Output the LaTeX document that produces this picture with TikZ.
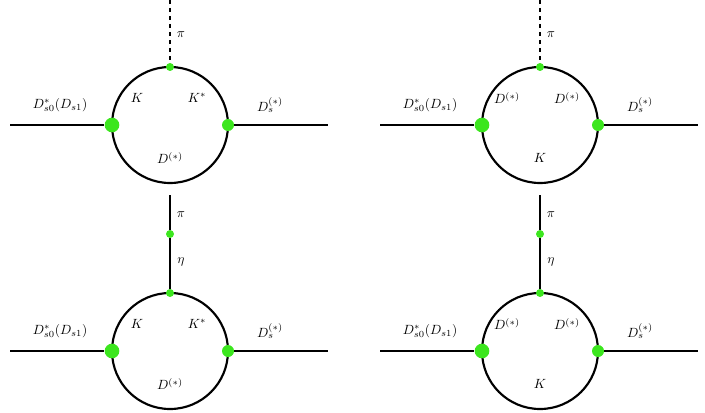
\documentclass[tikz,border=0pt]{standalone}
\usepackage{amsmath}
\usepackage{tikz}
\definecolor{vgreen}{RGB}{60,230,30}
\tikzset{
    prop/.style={line width=1.6pt},
    bigdot/.style={circle, fill=vgreen, inner sep=0pt, minimum size=#1},
    bigdot/.default=9pt
}
% loop diagram: x, y, top-left label, top-right label, bottom label, vertical leg
\newcommand{\loopdiag}[6] {
	\draw[prop] (#1,#2) circle [radius=58];
	\node[bigdot=11pt] (l#1#2) at (#1-58,#2) {};
	\node[bigdot=9pt] (r#1#2) at (#1+58,#2) {};
	\node[bigdot=6pt] (t#1#2) at (#1,#2-58) {};
	\coordinate (a#1#2) at (#1-160,#2);
	\coordinate (b#1#2) at (#1+158,#2);
	\draw[prop] (a#1#2) -- (l#1#2);
	\draw[prop] (r#1#2) -- (b#1#2);
	\node at (#1-33,#2-27) {#3};
	\node at (#1+27,#2-27) {#4};
	\node at (#1,#2+33) {#5};
	\node at (#1-110,#2-20) {$D^*_{s0}(D_{s1})$};
	\node at (#1+100,#2-20) {$D_s^{(*)}$};
	#6
}
\begin{document}
\begin{tikzpicture}[x=0.75pt,y=-0.75pt]
		\useasboundingbox (0,0) rectangle (705,413);

		% top row
		\loopdiag{170}{125}{$K$}{$K^*$}{$D^{(*)}$}{
			\coordinate (p1) at (170,0);
			\draw[prop, dashed] (p1) -- (t170125);
			\node at (181,35) {$\pi$};}
		\loopdiag{540}{125}{$D^{(*)}$}{$D^{(*)}$}{$K$}{
			\coordinate (p2) at (540,0);
			\draw[prop, dashed] (p2) -- (t540125);
			\node at (551,35) {$\pi$};}

		% bottom row
		\loopdiag{170}{351}{$K$}{$K^*$}{$D^{(*)}$}{
			\coordinate (p3) at (170,195);
			\node[bigdot=6pt] (m3) at (170,234) {};
			\draw[prop] (p3) -- (m3) -- (t170351);
			\node at (181,215) {$\pi$};
			\node at (181,262) {$\eta$};}
		\loopdiag{540}{351}{$D^{(*)}$}{$D^{(*)}$}{$K$}{
			\coordinate (p4) at (540,195);
			\node[bigdot=6pt] (m4) at (540,234) {};
			\draw[prop] (p4) -- (m4) -- (t540351);
			\node at (551,215) {$\pi$};
			\node at (551,262) {$\eta$};}
	\end{tikzpicture}
\end{document}
